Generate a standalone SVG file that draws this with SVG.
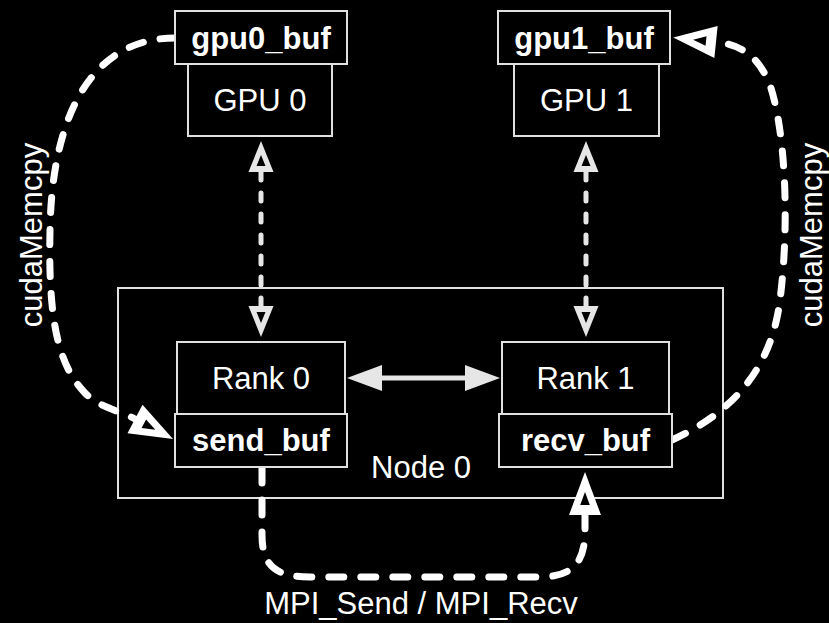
<svg xmlns="http://www.w3.org/2000/svg" width="829" height="623" viewBox="0 0 829 623">
<style>
.box{fill:#000;stroke:#e0e0e0;stroke-width:2}
.t{font-family:"Liberation Sans",Arial,sans-serif;font-size:31px;fill:#fff;text-anchor:middle}
.b{font-weight:bold}
.memcpy{fill:none;stroke:#fff;stroke-width:7;stroke-linecap:round;stroke-dasharray:15 17}
.pcie{fill:none;stroke:#e6e6e6;stroke-width:5;stroke-linecap:round;stroke-dasharray:8 13}
.solid{fill:none;stroke:#e6e6e6;stroke-width:5}
</style>
<defs>
<marker id="openW" markerUnits="userSpaceOnUse" viewBox="-2 -20 50 40" markerWidth="50" markerHeight="40" refX="0" refY="0" orient="auto">
<polygon points="43,0 0,-16 0,16" fill="#fff"/>
<polygon points="23,0 10,-4.8 10,4.8" fill="#000"/>
</marker>
<marker id="openG" markerUnits="userSpaceOnUse" viewBox="-2 -16 36 32" markerWidth="36" markerHeight="32" refX="0" refY="0" orient="auto-start-reverse">
<polygon points="31,0 0,-12.5 0,12.5" fill="#e6e6e6"/>
<polygon points="17,0 6,-4.5 6,4.5" fill="#000"/>
</marker>
<marker id="fillG" markerUnits="userSpaceOnUse" viewBox="-2 -16 40 32" markerWidth="40" markerHeight="32" refX="0" refY="0" orient="auto-start-reverse">
<polygon points="35,0 0,-13 0,13" fill="#e6e6e6"/>
</marker>
</defs>
<rect width="829" height="623" fill="#000"/>

<g id="node0">
<rect class="box" x="118" y="288" width="605" height="210"/>
<text class="t" x="421" y="478">Node 0</text>
</g>

<g id="connectors">
<path class="pcie" d="M261,172 L261,306" marker-start="url(#openG)" marker-end="url(#openG)"/>
<path class="pcie" d="M586,172 L586,306" marker-start="url(#openG)" marker-end="url(#openG)"/>
<path class="solid" d="M382,378 L465,378" marker-start="url(#fillG)" marker-end="url(#fillG)"/>
<path class="memcpy" d="M175,38 C95,38 52,110 50,230 C48,320 58,365 85,393 C100,408 118,410 135,419" marker-end="url(#openW)"/>
<path class="memcpy" d="M672,440 C720,418 770,380 780,300 C790,220 785,130 770,85 C760,60 745,45 716,42" marker-end="url(#openW)"/>
<path class="memcpy" d="M262,468 L262,535 C262,565 275,577 310,577 L540,577 C575,577 585,560 585,530 L585,515" marker-end="url(#openW)"/>
</g>

<g id="gpu0">
<rect class="box" x="188" y="64" width="144" height="72"/>
<text class="t" x="260" y="111">GPU 0</text>
</g>
<g id="gpu0_buf">
<rect class="box" x="175" y="11" width="172" height="53"/>
<text class="t b" x="261" y="49">gpu0_buf</text>
</g>
<g id="gpu1">
<rect class="box" x="514" y="64" width="145" height="72"/>
<text class="t" x="586.5" y="111">GPU 1</text>
</g>
<g id="gpu1_buf">
<rect class="box" x="498" y="11" width="172" height="53"/>
<text class="t b" x="584" y="49">gpu1_buf</text>
</g>
<g id="rank0">
<rect class="box" x="177" y="342" width="168" height="72"/>
<text class="t" x="261" y="389">Rank 0</text>
</g>
<g id="send_buf">
<rect class="box" x="175" y="414" width="172" height="53"/>
<text class="t b" x="261" y="451">send_buf</text>
</g>
<g id="rank1">
<rect class="box" x="502" y="342" width="167" height="72"/>
<text class="t" x="585.5" y="389">Rank 1</text>
</g>
<g id="recv_buf">
<rect class="box" x="499" y="414" width="173" height="53"/>
<text class="t b" x="585.5" y="451">recv_buf</text>
</g>

<g id="labels">
<text class="t" transform="translate(42,235) rotate(-90)">cudaMemcpy</text>
<text class="t" transform="translate(822,235) rotate(-90)">cudaMemcpy</text>
<text class="t" x="421" y="614">MPI_Send / MPI_Recv</text>
</g>
</svg>
